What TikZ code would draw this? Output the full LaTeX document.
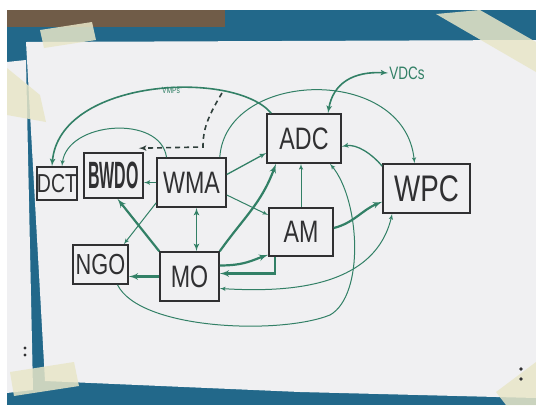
\documentclass[tikz,border=0pt]{standalone}
\usepackage{fontspec}
\usepackage{tikz}
\usetikzlibrary{arrows,calc,positioning}
\newfontfamily\hand[FakeStretch=0.75]{Liberation Sans}
\newfontfamily\handnarrow[FakeStretch=0.42]{Liberation Sans}
\definecolor{ink}{RGB}{48,48,50}
\definecolor{marker}{RGB}{50,128,102}
\definecolor{paper}{RGB}{240,240,242}
\definecolor{wall}{RGB}{34,104,138}
\definecolor{wood}{RGB}{112,92,72}
\definecolor{tape}{RGB}{232,230,200}
\tikzset{every picture/.style={
  >=latex'                      % LaTeX style arrows.
  }
}

\begin{document}
\begin{tikzpicture}[
    x=1pt, y=-1pt,
    box/.style={
      draw=ink,
      line width=1.6pt,
      fill=paper,
      text=ink,
      inner sep=0pt,
      font=\hand\fontsize{31}{31}\selectfont
    },
    note/.style={text=marker,inner sep=1pt},
    link/.style={draw=marker,line width=1pt},
    heavy/.style={draw=marker,line width=2.2pt},
    dashline/.style={draw=ink!80!marker,line width=1.6pt,dash pattern=on 5pt off 4pt}]

    \useasboundingbox (0,0) rectangle (536,405);

    % The wall, the sheets and the tape.
    \fill[white] (0,0) rectangle (536,405);
    \fill[wall] (7,10) rectangle (536,405);
    \fill[wood] (7,10) rectangle (225,27);
    \fill[paper] (7,62) -- (26,60) -- (33,390) -- (7,393) -- cycle;
    \fill[paper] (26,42) -- (536,40) -- (536,398) -- (300,392) -- (45,381) -- cycle;
    \fill[tape,opacity=.85] (40,30) -- (92,22) -- (96,40) -- (44,48) -- cycle;
    \fill[tape,opacity=.85] (7,68) -- (40,95) -- (46,122) -- (7,115) -- cycle;
    \fill[tape,opacity=.85] (436,14) -- (480,10) -- (536,42) -- (536,72) -- cycle;
    \fill[tape,opacity=.85] (10,372) -- (74,362) -- (79,386) -- (14,396) -- cycle;
    \fill[tape,opacity=.85] (496,392) -- (536,362) -- (536,405) -- (506,405) -- cycle;
    \fill[ink] (25,348) circle (1.6pt) (25,355) circle (1.6pt)
      (521,369) circle (1.8pt) (521,379) circle (1.8pt);

    % The actors.
    \node[box,minimum width=38pt,minimum height=33pt,
      font=\hand\fontsize{26}{26}\selectfont] (dct) at (57,183.5) {DCT};
    \node[box,minimum width=59pt,minimum height=45pt,
      font=\handnarrow\bfseries\fontsize{38}{38}\selectfont] (bwdo) at (113.5,175.5) {BWDO};
    \node[box,minimum width=69pt,minimum height=49pt] (wma) at (191.5,182.5) {WMA};
    \node[box,minimum width=74pt,minimum height=49pt] (adc) at (304,138.5) {ADC};
    \node[box,minimum width=87pt,minimum height=49pt,
      font=\hand\fontsize{37}{37}\selectfont] (wpc) at (426.5,188.5) {WPC};
    \node[box,minimum width=64pt,minimum height=48pt] (am) at (301,232) {AM};
    \node[box,minimum width=55pt,minimum height=39pt,
      font=\hand\fontsize{29}{29}\selectfont] (ngo) at (100.5,264.5) {NGO};
    \node[box,minimum width=59pt,minimum height=49pt] (mo) at (189.5,276.5) {MO};
    \node[note,font=\hand\fontsize{18}{18}\selectfont] (vdcs) at (407,73) {VDCs};
    \node[note,font=\hand\fontsize{9}{9}\selectfont] (vmps) at (171,90) {VMPs};

    % Arcs over the top.
    \draw[link,line width=1.6pt,->] ([xshift=5pt]adc.north west) ..
      controls +(-37,-44) and +(7,-88) .. ([xshift=-5pt]dct.north);
    \draw[link,->] ([xshift=-25pt]wma.north) ..
      controls +(-6,-43) and +(5,-45) .. ([xshift=5pt]dct.north);
    \draw[link,->] ([xshift=-7pt]wma.north east) ..
      controls +(6,-88) and +(-9.5,-99) .. ([xshift=-12pt]wpc.north);
    \draw[link,line width=1.6pt,<->] (vdcs.west) ..
      controls +(-35,-2) and +(5,-30) .. ([xshift=24pt]adc.north);

    % The dashed line down to BWDO.
    \coordinate (dashtop) at (222,93);
    \draw[dashline,->] (dashtop) .. controls (207,118) and (203,130) .. (203,147)
      -- ([xshift=-5pt,yshift=4pt]bwdo.north east);

    % Links out of WMA.
    \draw[link,line width=1.2pt,->] (wma.west) -- (bwdo.east |- wma.west);
    \draw[link,line width=1.3pt,->] ([yshift=8pt]wma.east) -- ([yshift=-14.5pt]adc.west);
    \draw[link,->] ([yshift=-12.5pt]wma.east) -- ([yshift=17pt]am.west);
    \draw[link,->] ([yshift=5pt]wma.south west) -- ([xshift=-5pt]ngo.north east);
    \draw[link,line width=1.6pt,<->] ([xshift=5pt]wma.south) -- ([xshift=7pt]mo.north);

    % Links out of MO.
    \draw[heavy,->] (mo.north west) -- ([xshift=4pt]bwdo.south);
    \draw[heavy,->] (mo.west) -- (ngo.east |- mo.west);
    \draw[heavy,->] (mo.north east) ..
      controls +(25,-35) and +(-15,40) .. ([xshift=-28pt]adc.south);
    \draw[heavy,->] ([yshift=11pt]mo.east) ..
      controls +(25,0) and +(-15,5) .. ([yshift=2pt]am.south west);
    \draw[heavy,->] ([xshift=-26pt]am.south) |- ([yshift=3pt]mo.east);

    % Links out of AM and WPC.
    \draw[link,->] (am.north) -- (am.north |- adc.south);
    \draw[heavy,->] ([yshift=4pt]am.east) ..
      controls +(20,-5) and +(-20,8) .. ([yshift=12pt]wpc.south west);
    \draw[link,line width=1.3pt,->] ([yshift=-3pt]wpc.north west) ..
      controls +(-10,-12) and +(15,-3) .. ([yshift=-8pt]adc.east);
    \draw[link,<->] ([xshift=10pt]wpc.south west) ..
      controls +(-18,77) and +(61,3.5) .. ([yshift=-12pt]mo.east);

    % The long loop from NGO round to ADC.
    \draw[link,->] ([xshift=17pt]ngo.south) ..
      controls (140,330) and (280,335) .. (330,315) ..
      controls (365,295) and (360,200) .. ([xshift=26pt]adc.south);
\end{tikzpicture}
\end{document}
